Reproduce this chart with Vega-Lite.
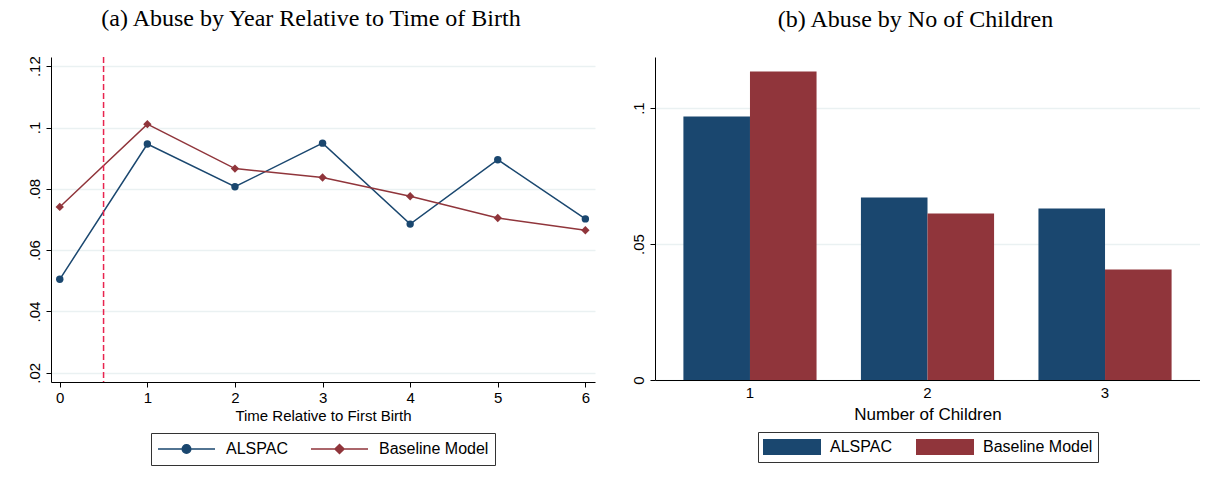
{
  "$schema": "https://vega.github.io/schema/vega-lite/v6.json",
  "background": "white",
  "padding": {"left": 27, "top": 6, "right": 0, "bottom": 0},
  "bounds": "flush",
  "spacing": 60,
  "resolve": {"scale": {"color": "independent"}, "legend": {"color": "independent"}},
  "datasets": {
    "lines": [
      {"t": 0, "series": "ALSPAC", "value": 0.0505},
      {"t": 1, "series": "ALSPAC", "value": 0.0946},
      {"t": 2, "series": "ALSPAC", "value": 0.0807},
      {"t": 3, "series": "ALSPAC", "value": 0.0949},
      {"t": 4, "series": "ALSPAC", "value": 0.0685},
      {"t": 5, "series": "ALSPAC", "value": 0.0895},
      {"t": 6, "series": "ALSPAC", "value": 0.0702},
      {"t": 0, "series": "Baseline Model", "value": 0.0741},
      {"t": 1, "series": "Baseline Model", "value": 0.1011},
      {"t": 2, "series": "Baseline Model", "value": 0.0866},
      {"t": 3, "series": "Baseline Model", "value": 0.0837},
      {"t": 4, "series": "Baseline Model", "value": 0.0776},
      {"t": 5, "series": "Baseline Model", "value": 0.0705},
      {"t": 6, "series": "Baseline Model", "value": 0.0665}
    ],
    "bars": [
      {"n": "1", "series": "ALSPAC", "value": 0.0969},
      {"n": "1", "series": "Baseline Model", "value": 0.1135},
      {"n": "2", "series": "ALSPAC", "value": 0.0671},
      {"n": "2", "series": "Baseline Model", "value": 0.0612},
      {"n": "3", "series": "ALSPAC", "value": 0.0631},
      {"n": "3", "series": "Baseline Model", "value": 0.0406}
    ],
    "event": [{"t": 0.5}]
  },
  "config": {
    "view": {"stroke": null},
    "font": "Liberation Sans",
    "axis": {
      "domainColor": "#000", "tickColor": "#000", "labelColor": "#000", "titleColor": "#000",
      "gridColor": "#eaf1f2", "gridWidth": 1.5, "tickSize": 5,
      "labelFont": "Liberation Sans", "titleFont": "Liberation Sans", "titleFontWeight": "normal",
      "labelFontSize": 15, "titleFontSize": 15
    },
    "title": {"font": "Liberation Serif", "fontSize": 24, "fontWeight": "normal", "color": "#000", "anchor": "middle", "frame": "bounds"},
    "legend": {
      "labelFont": "Liberation Sans", "labelFontSize": 16, "labelColor": "#000",
      "layout": {"bottom": {"anchor": "middle", "direction": "horizontal", "center": true}}
    }
  },
  "hconcat": [
    {
      "width": 544,
      "height": 325,
      "title": {"text": "(a) Abuse by Year Relative to Time of Birth", "offset": 25},
      "encoding": {
        "x": {"field": "t", "type": "quantitative", "scale": {"domain": [-0.1, 6.11], "nice": false, "zero": false},
          "axis": {"values": [0, 1, 2, 3, 4, 5, 6], "format": "d", "grid": false, "title": "Time Relative to First Birth", "titlePadding": 3, "labelPadding": 3}},
        "y": {"field": "value", "type": "quantitative", "scale": {"domain": [0.017, 0.123], "nice": false, "zero": false},
          "axis": {"values": [0.02, 0.04, 0.06, 0.08, 0.1, 0.12], "labelAngle": -90, "labelExpr": "replace(format(datum.value, '.2~f'), /^0\\./, '.')", "title": null, "grid": true, "labelPadding": 4}}
      },
      "layer": [
        {
          "data": {"name": "lines"},
          "mark": {"type": "line", "strokeWidth": 1.5},
          "encoding": {
            "color": {"field": "series", "type": "nominal", "scale": {"domain": ["ALSPAC", "Baseline Model"], "range": ["#1a476f", "#90353b"]},
              "legend": {
                "orient": "bottom", "direction": "horizontal", "title": null, "strokeColor": "#333", "padding": 6, "offset": 10,
                "symbolSize": 3249, "clipHeight": 20, "labelOffset": 10, "columnPadding": 22, "symbolStrokeWidth": 1.5,
                "encode": {"symbols": {"update": {
                  "shape": {"signal": "datum.value === 'ALSPAC' ? 'M-1,0L1,0M-0.15,0A0.15,0.15,0,1,0,0.15,0A0.15,0.15,0,1,0,-0.15,0Z' : 'M-1,0L1,0M-0.16,0L0,-0.16L0.16,0L0,0.16Z'"},
                  "fill": {"signal": "datum.value === 'ALSPAC' ? '#1a476f' : '#90353b'"},
                  "stroke": {"signal": "datum.value === 'ALSPAC' ? '#1a476f' : '#90353b'"},
                  "opacity": {"value": 1}
                }}}
              }}
          }
        },
        {
          "data": {"name": "lines"},
          "transform": [{"filter": "datum.series === 'ALSPAC'"}],
          "mark": {"type": "point", "shape": "circle", "filled": true, "opacity": 1, "size": 55},
          "encoding": {
            "color": {"field": "series", "type": "nominal"}
          }
        },
        {
          "data": {"name": "lines"},
          "transform": [{"filter": "datum.series === 'Baseline Model'"}],
          "mark": {"type": "point", "shape": "diamond", "filled": true, "opacity": 1, "size": 70},
          "encoding": {
            "color": {"field": "series", "type": "nominal"}
          }
        },
        {
          "data": {"name": "event"},
          "mark": {"type": "rule", "stroke": "#e8244f", "strokeDash": [6, 3], "strokeWidth": 1.5, "opacity": 1},
          "encoding": {"x": {"field": "t", "type": "quantitative"}, "y": null}
        }
      ]
    },
    {
      "width": 545,
      "height": 323,
      "title": {"text": "(b) Abuse by No of Children", "offset": 25},
      "data": {"name": "bars"},
      "mark": {"type": "bar"},
      "encoding": {
        "x": {"field": "n", "type": "nominal", "scale": {"paddingInner": 0.25, "paddingOuter": 0.16},
          "axis": {"title": "Number of Children", "labelAngle": 0, "ticks": false, "grid": false, "titleFontSize": 17, "labelPadding": 5, "titlePadding": 6}},
        "xOffset": {"field": "series", "type": "nominal", "scale": {"paddingInner": 0, "paddingOuter": 0}},
        "y": {"field": "value", "type": "quantitative", "scale": {"domain": [0, 0.1188], "nice": false},
          "axis": {"values": [0, 0.05, 0.1], "labelAngle": -90, "labelExpr": "replace(format(datum.value, '.2~f'), /^0\\./, '.')", "title": null, "grid": true, "labelPadding": 4}},
        "color": {"field": "series", "type": "nominal", "scale": {"domain": ["ALSPAC", "Baseline Model"], "range": ["#1a476f", "#90353b"]},
          "legend": {
            "orient": "bottom", "direction": "horizontal", "title": null, "strokeColor": "#333", "padding": 5, "offset": 10,
            "symbolType": "M-1,-0.276H1V0.276H-1Z", "symbolSize": 3364, "clipHeight": 20, "labelOffset": 9, "columnPadding": 24, "symbolStrokeWidth": 0,
            "symbolOpacity": 1
          }}
      }
    }
  ]
}
